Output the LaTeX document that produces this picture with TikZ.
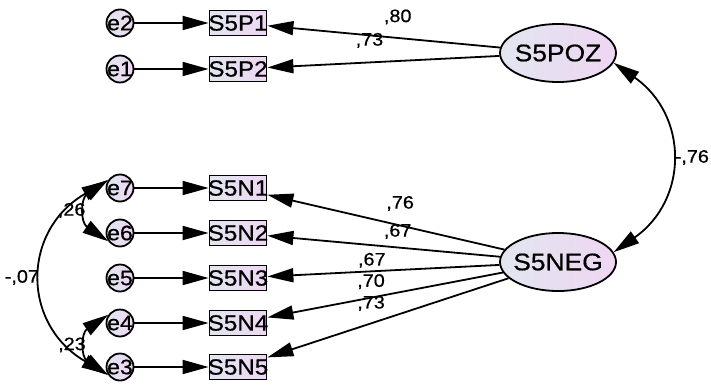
\documentclass[tikz,border=0pt]{standalone}
\usepackage{fontspec}
\setmainfont{Liberation Sans}[FakeStretch=1.1, FakeBold=0.6]
\usepackage{tikz}
\usetikzlibrary{arrows.meta,positioning,calc,shapes.geometric}
\definecolor{amosleft}{RGB}{226,230,240}
\definecolor{amosright}{RGB}{238,214,242}

\begin{document}
\begin{tikzpicture}[x=1pt, y=-1pt,
  nobox/.style={execute at begin node={\hbox to 0pt\bgroup\hss}, execute at end node={\hss\egroup}},
  obs/.style={rectangle, draw=black, line width=1.8pt, left color=amosleft, right color=amosright, minimum width=57pt, minimum height=25pt, inner sep=0pt, nobox, font=\fontsize{22}{22}\selectfont},
  err/.style={circle, draw=black, line width=1.8pt, left color=amosleft, right color=amosright, minimum size=27pt, inner sep=0pt, nobox, font=\fontsize{21}{22}\selectfont},
  lat/.style={ellipse, draw=black, line width=1.8pt, left color=amosleft, right color=amosright, minimum width=116pt, minimum height=58pt, inner sep=0pt, nobox, font=\fontsize{24}{24}\selectfont},
  coef/.style={font=\fontsize{18}{18}\selectfont, inner sep=0pt},
  reg/.style={-{Triangle[length=26pt,width=14pt]}, line width=1.8pt},
  cov/.style={{Triangle[length=26pt,width=14pt]}-{Triangle[length=26pt,width=14pt]}, line width=1.8pt}]
  \useasboundingbox (0,0) rectangle (711,388);

  % latent factors
  \node (POZ) [lat] at (558,53) {S5POZ};
  \node (NEG) [lat] at (558,262) {S5NEG};

  % indicators
  \node (P1) [obs] at (238,23) {S5P1};
  \node (P2) [obs] at (238,69) {S5P2};
  \node (N1) [obs] at (238,188) {S5N1};
  \node (N2) [obs] at (238,233) {S5N2};
  \node (N3) [obs] at (238,278) {S5N3};
  \node (N4) [obs] at (238,323) {S5N4};
  \node (N5) [obs] at (238,367) {S5N5};

  % errors
  \node (e2) [err] at (120,23) {e2};
  \node (e1) [err] at (120,69) {e1};
  \node (e7) [err] at (120,188) {e7};
  \node (e6) [err] at (120,233) {e6};
  \node (e5) [err] at (120,278) {e5};
  \node (e4) [err] at (120,323) {e4};
  \node (e3) [err] at (120,367) {e3};

  \path [reg]
  (e2) edge (P1)
  (e1) edge (P2)
  (e7) edge (N1)
  (e6) edge (N2)
  (e5) edge (N3)
  (e4) edge (N4)
  (e3) edge (N5);

  \path [reg]
  (POZ) edge node [coef, pos=0.44, yshift=21pt] {,80} (P1)
  (POZ) edge node [coef, pos=0.56, yshift=22pt] {,73} (P2)
  (NEG) edge node [coef, pos=0.44, yshift=22pt] {,76} (N1)
  (NEG) edge node [coef, pos=0.44, yshift=16pt] {,67} (N2)
  (NEG) edge node [coef, pos=0.55, yshift=11pt] {,67} (N3)
  (NEG) edge node [coef, pos=0.56, yshift=16pt] {,70} (N4)
  (NEG) edge node [coef, pos=0.57, yshift=20pt] {,73} (N5);

  \path [cov]
  (e7.145) edge [out=214, in=146, looseness=1.4] node [coef, left=1pt] {,26} (e6.215)
  (e4.145) edge [out=214, in=146, looseness=1.4] node [coef, left=1pt] {,23} (e3.215)
  (e7.150) edge [out=210, in=150, looseness=1.32] node [coef, left=3pt] {-,07} (e3.210)
  (POZ.-10) edge [out=-35, in=35, looseness=1.24] node [coef, right=4pt] {-,76} (NEG.10);

\end{tikzpicture}
\end{document}
